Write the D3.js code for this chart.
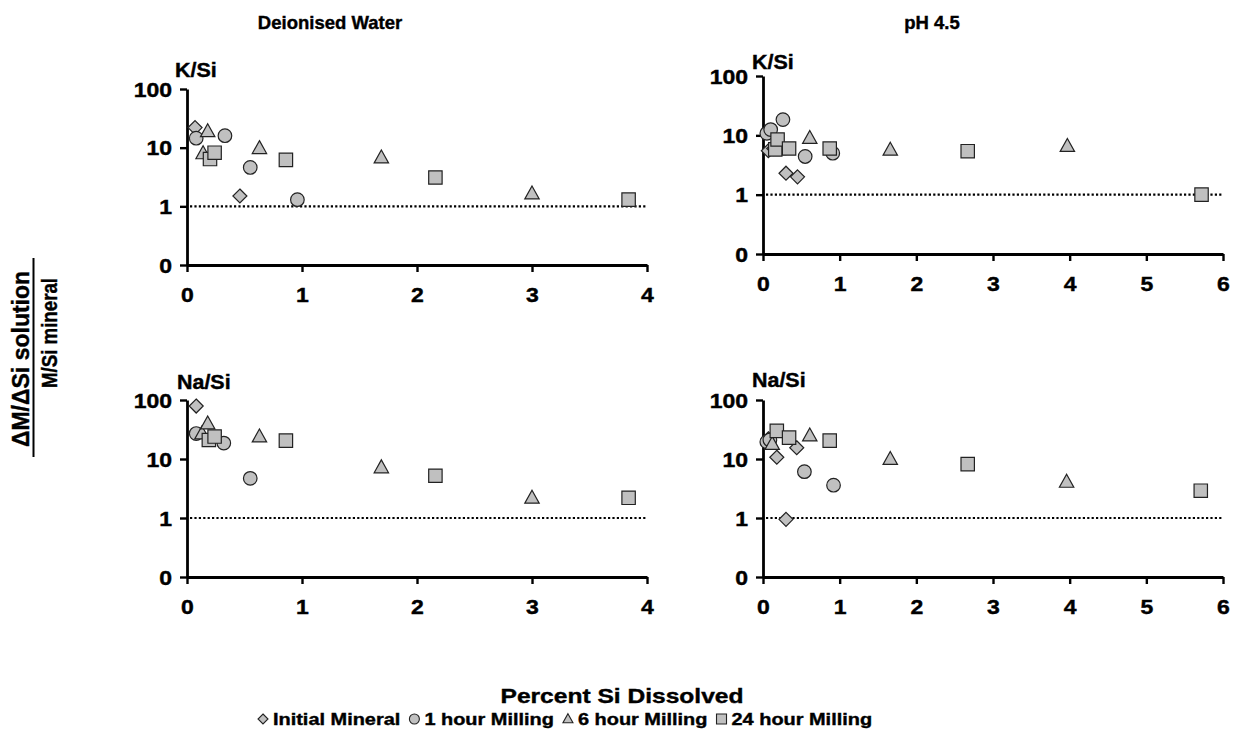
<!DOCTYPE html>
<html>
<head>
<meta charset="utf-8">
<script src="https://cdn.jsdelivr.net/npm/d3@7"></script>
<style>
  html, body { margin: 0; padding: 0; background: #fff; }
  svg text { font-family: "Liberation Sans", Arial, sans-serif; font-weight: bold; fill: #000;
             stroke: #000; stroke-width: 0.4px; }
</style>
</head>
<body>
<script>
// ---- tick labels -------------------------------------------------------
const yTickValues = [0.1, 1, 10, 100];
const yTickLabels = ["0", "1", "10", "100"];
const xTicksDI = [0, 1, 2, 3, 4];
const xTicksPH = [0, 1, 2, 3, 4, 5, 6];

const seriesNames = ["Initial Mineral", "1 hour Milling", "6 hour Milling", "24 hour Milling"];
const columnTitles = ["Deionised Water", "pH 4.5"];
const rowLabels = ["K/Si", "Na/Si"];

// ---- Deionised water, K/Si ---------------------------------------------
const diK_initial_x = [0.07, 0.46];
const diK_initial_y = [22, 1.5];
const diK_1h_x = [0.08, 0.33, 0.55, 0.96];
const diK_1h_y = [14.5, 16, 4.6, 1.3];
const diK_6h_x = [0.14, 0.18, 0.63, 1.69, 3.0];
const diK_6h_y = [8, 19, 9.8, 6.8, 1.65];
const diK_24h_x = [0.20, 0.24, 0.86, 2.16, 3.84];
const diK_24h_y = [6.4, 8.2, 6.2, 3.1, 1.3];

// ---- Deionised water, Na/Si --------------------------------------------
const diNa_initial_x = [0.08];
const diNa_initial_y = [79];
const diNa_1h_x = [0.08, 0.32, 0.55];
const diNa_1h_y = [27, 18.6, 4.7];
const diNa_6h_x = [0.13, 0.18, 0.63, 1.69, 3.0];
const diNa_6h_y = [27, 40, 24, 7.2, 2.2];
const diNa_24h_x = [0.19, 0.24, 0.86, 2.16, 3.84];
const diNa_24h_y = [21, 24, 20.5, 5.2, 2.2];

// ---- pH 4.5, K/Si -------------------------------------------------------
const phK_initial_x = [0.07, 0.14, 0.30, 0.45];
const phK_initial_y = [5.5, 6, 2.3, 2.0];
const phK_1h_x = [0.05, 0.10, 0.26, 0.55, 0.91];
const phK_1h_y = [10.8, 12.5, 18.4, 4.4, 5.0];
const phK_6h_x = [0.20, 0.61, 1.66, 3.97];
const phK_6h_y = [5.8, 9.0, 5.7, 6.6];
const phK_24h_x = [0.16, 0.19, 0.34, 0.87, 2.67, 5.72];
const phK_24h_y = [5.8, 8.5, 6.0, 6.0, 5.4, 1.0];

// ---- pH 4.5, Na/Si ------------------------------------------------------
const phNa_initial_x = [0.07, 0.18, 0.30, 0.44];
const phNa_initial_y = [22, 10.7, 0.95, 15.5];
const phNa_1h_x = [0.05, 0.09, 0.54, 0.92];
const phNa_1h_y = [19.5, 21, 6.1, 3.6];
const phNa_6h_x = [0.12, 0.61, 1.66, 3.96];
const phNa_6h_y = [18, 25, 10, 4.1];
const phNa_24h_x = [0.18, 0.34, 0.87, 2.67, 5.71];
const phNa_24h_y = [30, 23, 20.5, 8.2, 2.9];

// ---- panel layout -------------------------------------------------------
const panels = [
  { label: rowLabels[0], labelX: 175, labelY: 77, left: 187, right: 647, top: 89, bottom: 265, xTicks: xTicksDI,
    series: [[diK_initial_x, diK_initial_y], [diK_1h_x, diK_1h_y], [diK_6h_x, diK_6h_y], [diK_24h_x, diK_24h_y]] },
  { label: rowLabels[0], labelX: 752, labelY: 69, left: 763, right: 1223, top: 76, bottom: 254, xTicks: xTicksPH,
    series: [[phK_initial_x, phK_initial_y], [phK_1h_x, phK_1h_y], [phK_6h_x, phK_6h_y], [phK_24h_x, phK_24h_y]] },
  { label: rowLabels[1], labelX: 177, labelY: 389, left: 187, right: 647, top: 400, bottom: 577, xTicks: xTicksDI,
    series: [[diNa_initial_x, diNa_initial_y], [diNa_1h_x, diNa_1h_y], [diNa_6h_x, diNa_6h_y], [diNa_24h_x, diNa_24h_y]] },
  { label: rowLabels[1], labelX: 752, labelY: 387, left: 763, right: 1223, top: 400, bottom: 577, xTicks: xTicksPH,
    series: [[phNa_initial_x, phNa_initial_y], [phNa_1h_x, phNa_1h_y], [phNa_6h_x, phNa_6h_y], [phNa_24h_x, phNa_24h_y]] }
];

const STRETCH = 1.18;          // wide-set numerals
const FILL = "#c0c0c0";

// marker outlines centred on the origin
function markerPath(kind, s) {
  const p = d3.path();
  if (kind === 0) {            // diamond
    p.moveTo(0, -s); p.lineTo(s, 0); p.lineTo(0, s); p.lineTo(-s, 0); p.closePath();
  } else if (kind === 1) {     // circle
    p.arc(0, 0, s, 0, 2 * Math.PI);
  } else if (kind === 2) {     // triangle
    p.moveTo(0, -s * 1.05); p.lineTo(s, s * 0.75); p.lineTo(-s, s * 0.75); p.closePath();
  } else {                     // square
    p.rect(-s, -s, 2 * s, 2 * s);
  }
  return p.toString();
}
const markerSize = [7, 6.8, 7.2, 6.7];

const svg = d3.select("body").append("svg").attr("width", 1243).attr("height", 745);

function stretchText(sel, f) {
  const k = f || STRETCH;
  sel.each(function () {
    const t = d3.select(this);
    const x = +t.attr("x") || 0;
    t.attr("x", x / k).attr("transform", `scale(${k},1)`);
  });
}

panels.forEach(pn => {
  const xMax = pn.xTicks[pn.xTicks.length - 1];
  const x = d3.scaleLinear().domain([0, xMax]).range([pn.left, pn.right]);
  const y = d3.scaleLog().domain([0.1, 100]).range([pn.bottom, pn.top]);
  const g = svg.append("g");

  // reference line at ratio = 1
  g.append("line")
    .attr("x1", pn.left + 3).attr("x2", pn.right)
    .attr("y1", y(1)).attr("y2", y(1))
    .attr("stroke", "#000").attr("stroke-width", 2.2)
    .attr("stroke-dasharray", "2.2,2.2");

  const yAxis = g.append("g").attr("transform", `translate(${pn.left},0)`)
    .call(d3.axisLeft(y).tickValues(yTickValues).tickFormat((d, i) => yTickLabels[i])
      .tickSize(7).tickSizeOuter(0).tickPadding(7));
  const xAxis = g.append("g").attr("transform", `translate(0,${pn.bottom})`)
    .call(d3.axisBottom(x).tickValues(pn.xTicks).tickFormat(d3.format("d"))
      .tickSize(7).tickSizeOuter(0).tickPadding(16));

  [yAxis, xAxis].forEach(a => {
    a.select(".domain").attr("stroke", "#000").attr("stroke-width", 2.8);
    a.selectAll(".tick line").attr("stroke", "#000").attr("stroke-width", 2.4);
    a.selectAll(".tick text").attr("font-size", 19.5).attr("fill", "#000")
      .style("font-family", "'Liberation Sans', Arial, sans-serif").style("font-weight", "bold");
    a.attr("font-family", null).attr("font-size", null);
  });
  yAxis.selectAll(".tick text").attr("x", -15).attr("dy", "0.36em").call(stretchText);
  xAxis.selectAll(".tick text").call(stretchText);

  // series markers, later series over earlier ones
  pn.series.forEach(([xs, ys], k) => {
    g.append("g").selectAll("path").data(xs.map((v, i) => [v, ys[i]])).join("path")
      .attr("d", markerPath(k, markerSize[k]))
      .attr("transform", d => `translate(${x(d[0])},${y(d[1])})`)
      .attr("fill", FILL).attr("stroke", "#222").attr("stroke-width", 1.2);
  });

  g.append("text").attr("x", pn.labelX).attr("y", pn.labelY)
    .attr("font-size", 19.5).text(pn.label).call(stretchText, 1.1);
});

// column titles
[[330, columnTitles[0]], [932, columnTitles[1]]].forEach(([cx, t]) => {
  svg.append("text").attr("x", cx).attr("y", 29).attr("text-anchor", "middle")
    .attr("font-size", 18.5).text(t);
});

// y-axis title as a fraction
const yt = svg.append("g");
yt.append("text").attr("transform", "translate(29,359) rotate(-90)")
  .attr("text-anchor", "middle").attr("font-size", 23).text("\u0394M/\u0394Si solution");
yt.append("line").attr("x1", 33.5).attr("x2", 33.5).attr("y1", 258).attr("y2", 457)
  .attr("stroke", "#000").attr("stroke-width", 2);
yt.append("text").attr("transform", "translate(57,388) rotate(-90)")
  .attr("font-size", 22.5).attr("textLength", 110).attr("lengthAdjust", "spacingAndGlyphs")
  .text("M/Si mineral");

// x-axis title
svg.append("text").attr("x", 622 - 243 / 2).attr("y", 703)
  .attr("font-size", 21).attr("textLength", 243).attr("lengthAdjust", "spacingAndGlyphs")
  .text("Percent Si Dissolved");

// legend
const legend = svg.append("g").attr("transform", "translate(0,719)");
const legFont = 17;
const legStart = 257, legEnd = 880;
const items = seriesNames.map((name, k) => {
  const gi = legend.append("g");
  gi.append("path").attr("d", markerPath(k, 5)).attr("fill", FILL)
    .attr("stroke", "#222").attr("stroke-width", 1.1);
  const t = gi.append("text").attr("x", 10).attr("y", 6).attr("font-size", legFont).text(name);
  return { gi, t, w: 10 + t.node().getComputedTextLength() };
});
const gap = 12;
const natural = d3.sum(items, d => d.w) + gap * (items.length - 1) + 6;
const k = (legEnd - legStart) / natural;
let cx = legStart + 6;
items.forEach(it => {
  const tw = (it.w - 10) * k;
  it.t.attr("textLength", tw).attr("lengthAdjust", "spacingAndGlyphs");
  it.gi.attr("transform", `translate(${cx},0)`);
  cx += 10 + tw + gap * k;
});
</script>
</body>
</html>
